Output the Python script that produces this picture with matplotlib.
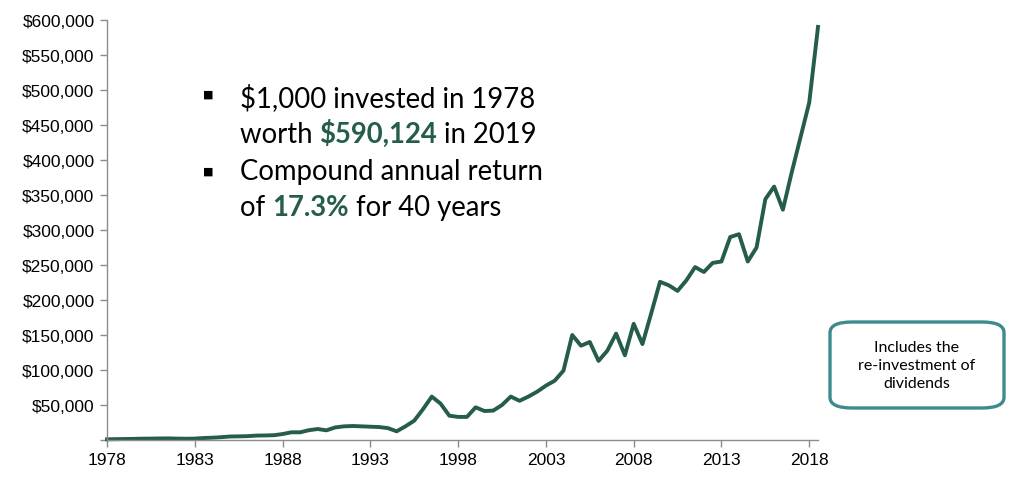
import numpy as np
import matplotlib
matplotlib.use('Agg')
import matplotlib.pyplot as plt
from matplotlib.patches import FancyBboxPatch
from matplotlib.ticker import FuncFormatter

# semi-annual values of $1,000 invested in 1978 (thousands of dollars)
values_k = [
    1.0, 1.2, 1.4, 1.6, 1.9, 2.0, 2.2, 2.3, 2.0, 1.8,      # 1978 - 1982.5
    2.0, 2.8, 3.3, 4.0, 5.0, 5.2, 5.5, 6.3, 6.5, 6.8,      # 1983 - 1987.5
    8.5, 11.0, 11.0, 14.0, 15.7, 13.8, 18.0, 19.5, 20.0, 19.5,  # 1988 - 1992.5
    19.0, 18.5, 17.0, 12.4, 19.5, 27.6, 44.0, 62.0, 52.0, 34.7,  # 1993 - 1997.5
    33.0, 33.0, 46.7, 41.4, 42.0, 50.0, 62.0, 56.0, 62.0, 69.0,  # 1998 - 2002.5
    77.6, 84.7, 99.0, 150.0, 134.7, 140.0, 113.0, 127.6, 152.0, 121.0,  # 2003 - 2007.5
    166.0, 137.0, 181.0, 226.0, 221.0, 213.0, 228.0, 247.0, 240.0, 253.0,  # 2008 - 2012.5
    255.0, 290.0, 294.0, 255.0, 275.0, 344.0, 362.0, 329.0, 382.0, 432.0,  # 2013 - 2017.5
    482.0, 590.124,                                         # 2018 - 2018.5
]
years = np.arange(1978, 1978 + 0.5 * len(values_k), 0.5)
tick_years = [1978, 1983, 1988, 1993, 1998, 2003, 2008, 2013, 2018]
y_ticks = list(range(0, 600001, 50000))

GREEN = '#255c4a'
TEAL = '#3d8b8e'
AXIS = '#8c8c8c'

fig = plt.figure(figsize=(10.09, 4.85), dpi=100)
ax = fig.add_axes([107 / 1009, 1 - 441 / 485, (818 - 107) / 1009, 420 / 485])

ax.plot(years, np.array(values_k) * 1000, color=GREEN, lw=2.8, clip_on=False)

ax.set_xlim(1978, years[-1])
ax.set_ylim(0, 600000)
ax.set_xticks(tick_years)
ax.set_yticks(y_ticks)
ax.yaxis.set_major_formatter(FuncFormatter(lambda v, p: '' if v == 0 else f'${v:,.0f}'))

for side in ['top', 'right']:
    ax.spines[side].set_visible(False)
for side in ['left', 'bottom']:
    ax.spines[side].set_color(AXIS)
    ax.spines[side].set_linewidth(1.0)
ax.tick_params(colors=AXIS, length=5, width=1.0, labelcolor='black',
               labelsize=12.5, pad=4)
for lab in ax.get_xticklabels() + ax.get_yticklabels():
    lab.set_family('Liberation Sans')

# annotation text in the upper left
big = dict(family='Lato', fontsize=19.8)


def rich_line(x, y, parts):
    prev = fig.text(x, y, parts[0][0], color=parts[0][1], fontweight=parts[0][2],
                    va='baseline', **big)
    for txt, col, wt in parts[1:]:
        prev = ax.annotate(txt, xy=(1, 0), xycoords=prev, va='bottom',
                           color=col, fontweight=wt, annotation_clip=False, **big)


W = 1009
H = 485
rich_line(240 / W, 1 - 107 / H, [('$1,000 invested in 1978', 'black', 'normal')])
rich_line(240 / W, 1 - 143 / H, [('worth ', 'black', 'normal'),
                                 ('$590,124', GREEN, 'bold'),
                                 (' in 2019', 'black', 'normal')])
rich_line(240 / W, 1 - 180 / H, [('Compound annual return', 'black', 'normal')])
rich_line(240 / W, 1 - 216 / H, [('of ', 'black', 'normal'),
                                 ('17.3%', GREEN, 'bold'),
                                 (' for 40 years', 'black', 'normal')])
for by in [95, 172]:
    fig.text(208 / W, 1 - by / H, '\u25a0', fontsize=8, ha='center', va='center',
             family='DejaVu Sans')

# note box
box = FancyBboxPatch((830 / W, 1 - 409 / H), 174 / W, 86 / H,
                     boxstyle='round,pad=0,rounding_size=0.022',
                     transform=fig.transFigure, fc='white', ec=TEAL, lw=2.4)
fig.patches.append(box)
fig.text(917 / W, 1 - 366 / H, 'Includes the\nre-investment of\ndividends',
         ha='center', va='center', family='Lato', fontsize=11.5, linespacing=1.35)

fig.savefig('out.png', dpi=100)
